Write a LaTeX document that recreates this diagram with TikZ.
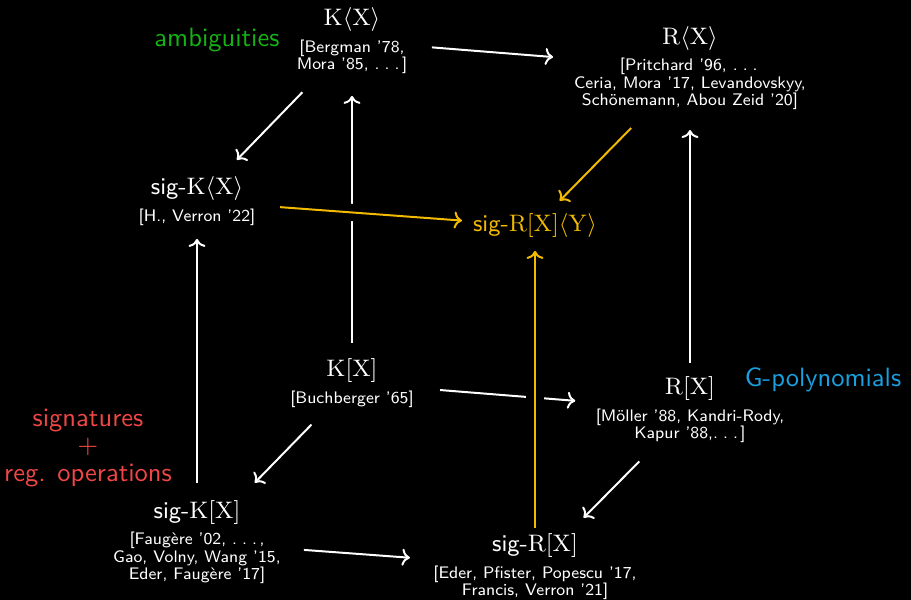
\documentclass[tikz,border=0pt]{standalone}
\usepackage{amsmath}
\usepackage{amssymb}
\usepackage{tikz}
\usetikzlibrary{arrows.meta}

\definecolor{ambgreen}{RGB}{20,178,20}
\definecolor{gpblue}{RGB}{25,160,225}
\definecolor{sigred}{RGB}{240,70,70}
\definecolor{sigyellow}{RGB}{242,186,0}

\newcommand{\ringfont}{\fontsize{9}{11}\selectfont\sffamily}
\newcommand{\reffont}{\fontsize{6.3}{6.6}\selectfont\sffamily}
\newcommand{\lblfont}{\fontsize{10}{10.2}\selectfont\sffamily}
\newcommand{\refdots}{.\kern.3em.\kern.3em.\kern.15em}

\tikzset{
  >={Computer Modern Rightarrow[length=3pt, width=6.4pt]},
  vert/.style={align=center, inner sep=0pt, text=white, font=\reffont},
  lbl/.style={align=center, inner sep=0pt, font=\lblfont},
  arr/.style={->, white, line width=0.75pt},
  sigarr/.style={->, sigyellow, line width=0.75pt,
    preaction={draw=black, -, line width=6.5pt}},
}

\begin{document}
\begin{tikzpicture}[x=0.377pt, y=-0.377pt]
    \fill[black] (0,0) rectangle (911,600);
    \useasboundingbox (0,0) rectangle (911,600);

    % back face
    \node[vert] (kX) at (352,41) {{\ringfont $\mathrm{K}\langle\mathrm{X}\rangle$}\\[2pt]
        {[}Bergman '78,\\ Mora '85, \refdots]};
    \node[vert] (RX) at (690,68) {{\ringfont $\mathrm{R}\langle\mathrm{X}\rangle$}\\[2pt]
        {[}Pritchard '96, \refdots\\ Ceria, Mora '17, Levandovskyy,\\ Schönemann, Abou Zeid '20]};
    \node[vert] (kx) at (352,383) {{\ringfont $\mathrm{K}[\mathrm{X}]$}\\[2pt]
        {[}Buchberger '65]};
    \node[vert] (Rx) at (690,410) {{\ringfont $\mathrm{R}[\mathrm{X}]$}\\[2pt]
        {[}Möller '88, Kandri-Rody,\\ Kapur '88,\refdots]};

    % front face
    \node[vert] (sigkX) at (197,201) {{\ringfont sig-$\mathrm{K}\langle\mathrm{X}\rangle$}\\[2pt]
        {[}H., Verron '22]};
    \node[vert, text=sigyellow] (sigRY) at (535,226)
        {{\ringfont sig-$\mathrm{R}[\mathrm{X}]\langle\mathrm{Y}\rangle$}};
    \node[vert] (sigkx) at (197,542) {{\ringfont sig-$\mathrm{K}[\mathrm{X}]$}\\[2pt]
        {[}Faugère '02, \refdots,\\ Gao, Volny, Wang '15,\\ Eder, Faugère '17]};
    \node[vert] (sigRx) at (535,567) {{\ringfont sig-$\mathrm{R}[\mathrm{X}]$}\\[2pt]
        {[}Eder, Pfister, Popescu '17,\\ Francis, Verron '21]};

    % labels
    \node[lbl, text=ambgreen] (amb) at (217,40) {ambiguities};
    \node[lbl, text=gpblue] (gpol) at (823,380) {G-polynomials};
    \node[lbl, text=sigred] (sigops) at (88,448) {signatures\\$+$\\reg. operations};

    % white arrows
    \draw[arr, shorten <=30.2pt, shorten >=51.8pt] (kX.center) -- (RX.center);
    \draw[arr, shorten <=26.9pt, shorten >=21.6pt] (kX.center) -- (sigkX.center);
    \draw[arr, shorten <=15.1pt, shorten >=20.7pt] (kx.center) -- (kX.center);
    \draw[arr, shorten <=33.3pt, shorten >=43.4pt] (kx.center) -- (Rx.center);
    \draw[arr, shorten <=21.9pt, shorten >=31.2pt] (kx.center) -- (sigkx.center);
    \draw[arr, shorten <=17.7pt, shorten >=23.4pt] (Rx.center) -- (RX.center);
    \draw[arr, shorten <=27.2pt, shorten >=26.1pt] (Rx.center) -- (sigRx.center);
    \draw[arr, shorten <=22.2pt, shorten >=14.3pt] (sigkx.center) -- (sigkX.center);
    \draw[arr, shorten <=40.4pt, shorten >=47.3pt] (sigkx.center) -- (sigRx.center);

    % signature arrows into sig-R[X]<Y>
    \draw[sigarr, shorten <=31.7pt, shorten >=13.3pt] (RX.center) -- (sigRY.center);
    \draw[sigarr, shorten <=31.4pt, shorten >=27.6pt] (sigkX.center) -- (sigRY.center);
    \draw[sigarr, shorten <=14.7pt, shorten >=9.4pt] (sigRx.center) -- (sigRY.center);
\end{tikzpicture}
\end{document}
